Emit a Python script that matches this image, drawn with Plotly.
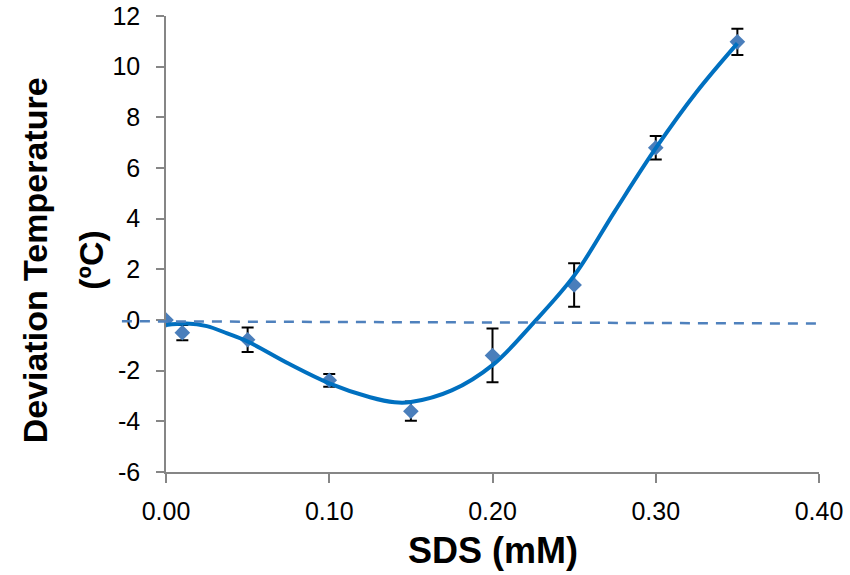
#Deviation temperature vs SDS concentration, Excel-style scatter with error bars and trend curve
import plotly.graph_objects as go

# measured points
sds = [0.00, 0.01, 0.05, 0.10, 0.15, 0.20, 0.25, 0.30, 0.35]
dev_temp = [0.0, -0.5, -0.78, -2.38, -3.6, -1.4, 1.38, 6.8, 10.98]
dev_err = [0.0, 0.3, 0.48, 0.25, 0.38, 1.06, 0.86, 0.46, 0.52]

# trend curve
curve_x = [0.0, 0.0125, 0.025, 0.0375, 0.05, 0.075, 0.10, 0.125, 0.14, 0.15, 0.175, 0.20, 0.225, 0.25, 0.275, 0.30, 0.325, 0.35]
curve_y = [-0.2, -0.14, -0.24, -0.53, -0.85, -1.72, -2.5, -3.05, -3.25, -3.24, -2.78, -1.78, -0.12, 1.75, 4.3, 6.78, 9.0, 10.92]

# dashed reference line (start / end)
ref_x = [-0.027, 0.40]
ref_y = [-0.05, -0.14]

x_ticks = [0.0, 0.1, 0.2, 0.3, 0.4]
x_labels = ["0.00", "0.10", "0.20", "0.30", "0.40"]
y_ticks = [-6, -4, -2, 0, 2, 4, 6, 8, 10, 12]
y_labels = ["-6", "-4", "-2", "0", "2", "4", "6", "8", "10", "12"]

fig = go.Figure()

fig.add_trace(go.Scatter(
    x=sds, y=dev_temp, mode="markers",
    marker=dict(symbol="diamond", size=12, color="rgb(74,126,187)"),
    error_y=dict(type="data", array=dev_err, visible=True, color="black", thickness=2, width=6),
    showlegend=False,
))

fig.add_trace(go.Scatter(
    x=curve_x, y=curve_y, mode="lines",
    line=dict(color="rgb(0,112,192)", width=4, shape="spline", smoothing=1),
    showlegend=False,
))

# dashed line goes past the y axis on the left, like in the original
x0, x1 = 0.0, 0.4
fig.add_shape(
    type="line", xref="paper", yref="y",
    x0=(ref_x[0] - x0) / (x1 - x0), x1=(ref_x[1] - x0) / (x1 - x0),
    y0=ref_y[0], y1=ref_y[1],
    line=dict(color="rgb(79,129,189)", width=2.5, dash="10px,8px"),
    layer="above",
)

axis_font = dict(family="Liberation Sans, Arial, sans-serif", size=25, color="black")
xtitle_font = dict(family="Liberation Sans, Arial, sans-serif", size=36, color="black")
ytitle_font = dict(family="Liberation Sans, Arial, sans-serif", size=34, color="black")

fig.update_xaxes(
    range=[x0, x1], tickvals=x_ticks, ticktext=x_labels, automargin=False,
    showline=True, linecolor="rgb(134,134,134)", linewidth=1.5,
    ticks="outside", ticklen=9, tickcolor="rgb(134,134,134)", tickwidth=1.5,
    showgrid=False, zeroline=False, tickfont=axis_font, ticklabelstandoff=7,
    ticklabeloverflow="allow",
)
fig.update_yaxes(
    range=[-6, 12], tickvals=y_ticks, ticktext=y_labels, automargin=False,
    showline=True, linecolor="rgb(134,134,134)", linewidth=1.5,
    ticks="outside", ticklen=8, tickcolor="rgb(134,134,134)", tickwidth=1.5,
    showgrid=False, zeroline=False, tickfont=axis_font, ticklabelstandoff=11,
    ticklabeloverflow="allow",
)

# axis titles placed by hand
fig.add_annotation(text="<b>SDS (mM)</b>", xref="paper", yref="paper",
                   x=0.5, y=-0.172, showarrow=False, font=xtitle_font,
                   xanchor="center", yanchor="middle")
fig.add_annotation(text="<b>Deviation Temperature</b>", xref="paper", yref="paper",
                   x=-0.2, y=0.465, textangle=-90, showarrow=False, font=ytitle_font,
                   xanchor="center", yanchor="middle")
fig.add_annotation(text="<b>(ºC)</b>", xref="paper", yref="paper",
                   x=-0.115, y=0.465, textangle=-90, showarrow=False, font=ytitle_font,
                   xanchor="center", yanchor="middle")

fig.update_layout(
    width=850, height=575,
    margin=dict(l=166, r=31, t=16, b=103),
    plot_bgcolor="white", paper_bgcolor="white",
)

# drop the default 8px body margin so the figure fills the window, no modebar
fig.write_html("out.html", config={"displayModeBar": False},
               post_script="document.body.style.margin='0';")
